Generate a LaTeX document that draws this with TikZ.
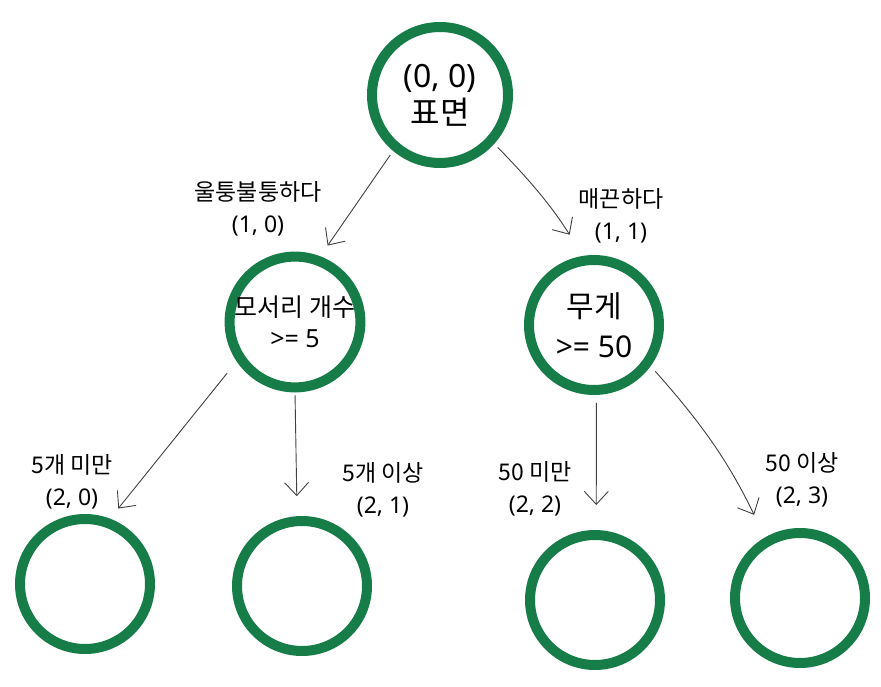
\documentclass[tikz,border=0pt]{standalone}
\usepackage{fontspec}
\setmainfont{Noto Sans}
\newfontfamily\kr{Noto Sans CJK KR}
\usetikzlibrary{arrows.meta}

\definecolor{treegreen}{RGB}{22,125,72}
\tikzset{
  split/.style={circle,draw=treegreen,line width=10pt,minimum size=130pt,inner sep=0pt,align=center},
  leaf/.style={circle,draw=treegreen,line width=10pt,minimum size=130pt,inner sep=0pt},
  edgelabel/.style={align=center,font=\fontsize{23}{32}\selectfont},
  branch/.style={draw=black!75,line width=0.9pt,-{Straight Barb[length=13pt,width=24pt]}}
}

\begin{document}
\begin{tikzpicture}[x=1pt,y=-1pt]
\useasboundingbox (0,0) rectangle (881,687);

\node[split,minimum size=136pt,font=\fontsize{32}{37}\selectfont] (root) at (440,95) {(0, 0)\\{\kr 표면}};
\node[split,font=\fontsize{25}{31}\selectfont] (n10) at (295,322) {{\kr 모서리 개수}\\>= 5};
\node[split,font=\fontsize{30}{40}\selectfont] (n11) at (594,325) {{\kr 무게}\\>= 50};
\node[leaf] (n20) at (85,584) {};
\node[leaf] (n21) at (302,586) {};
\node[leaf] (n22) at (595,600) {};
\node[leaf] (n23) at (800,598) {};

\node[edgelabel] (l10) at (258,209) {{\kr 울퉁불퉁하다}\\(1, 0)};
\node[edgelabel] (l11) at (621,216) {{\kr 매끈하다}\\(1, 1)};
\node[edgelabel] (l20) at (72,482) {{\kr 5개 미만}\\(2, 0)};
\node[edgelabel] (l21) at (383,490) {{\kr 5개 이상}\\(2, 1)};
\node[edgelabel] (l22) at (535,489) {{\kr 50 미만}\\(2, 2)};
\node[edgelabel] (l23) at (802,480) {{\kr 50 이상}\\(2, 3)};

\draw[branch,shorten <=5pt,shorten >=13pt] (root.-130) -- (n10.69);
\draw[branch,shorten <=5pt,shorten >=25pt,bend left=6] (root.-42) to (n11.99);
\draw[branch,shorten <=15pt,shorten >=13pt] (n10.-146) -- (n20.69);
\draw[branch,shorten <=3pt,shorten >=20pt] (n10.-90) -- (n21.94);
\draw[branch,shorten <=8pt,shorten >=25pt] (n11.-88) -- (n22.89);
\draw[branch,shorten <=7pt,shorten >=25pt,bend left=8] (n11.-36) to (n23.120);
\end{tikzpicture}
\end{document}
